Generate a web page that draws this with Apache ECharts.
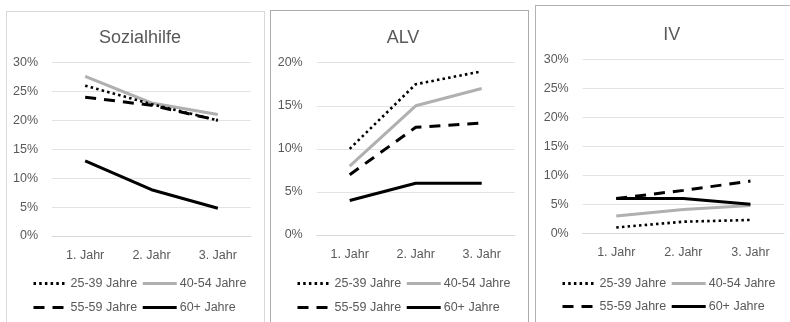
<!DOCTYPE html>
<html>
<head>
<meta charset="utf-8">
<script src="https://cdn.jsdelivr.net/npm/echarts@6/dist/echarts.min.js"></script>
<style>
  html, body { margin: 0; padding: 0; background: #fff; width: 790px; height: 322px; overflow: hidden; }
  .panel { position: absolute; box-sizing: content-box; background: #fff; }
  #p1 { left: 6px; top: 11px; width: 257px; height: 330px; border: 1px solid #d9d9d9; }
  #p2 { left: 270px; top: 10px; width: 257px; height: 330px; border: 1px solid #ababab; }
  #p3 { left: 535px; top: 5px; width: 270px; height: 330px; border: 1px solid #b3b3b3; }
</style>
</head>
<body>
<div id="p1" class="panel"></div>
<div id="p2" class="panel"></div>
<div id="p3" class="panel"></div>
<script>
// Categories and age groups
const categories = ['1. Jahr', '2. Jahr', '3. Jahr'];
const groups = ['25-39 Jahre', '40-54 Jahre', '55-59 Jahre', '60+ Jahre'];

// Sozialhilfe (%)
const sozialhilfe_25_39 = [26, 22.8, 20];
const sozialhilfe_40_54 = [27.6, 23, 21];
const sozialhilfe_55_59 = [24, 22.6, 20];
const sozialhilfe_60plus = [13, 8, 4.8];

// ALV (%)
const alv_25_39 = [10, 17.5, 19];
const alv_40_54 = [8, 15, 17];
const alv_55_59 = [7, 12.5, 13];
const alv_60plus = [4, 6, 6];

// IV (%)
const iv_25_39 = [1, 2, 2.3];
const iv_40_54 = [3, 4.1, 4.8];
const iv_55_59 = [6, 7.4, 9];
const iv_60plus = [6, 6, 5];

const textColor = '#595959';
const font = 'Liberation Sans';

// line look per age group
const lineStyles = [
  { color: '#000000', width: 2.6, type: [2.5, 3.2], cap: 'butt' },
  { color: '#b0b0b0', width: 3, type: 'solid' },
  { color: '#000000', width: 3, type: [11, 8], cap: 'butt' },
  { color: '#000000', width: 3, type: 'solid' }
];

function buildPanel(el, title, seriesData, yMax, layout) {
  const chart = echarts.init(document.getElementById(el), null, { renderer: 'canvas' });
  const legendCommon = {
    orient: 'horizontal',
    left: layout.legendLeft,
    padding: 0,
    itemWidth: 34,
    itemHeight: 14,
    itemGap: 4,
    textStyle: { color: textColor, fontSize: 12.5, fontFamily: font, padding: [0, 0, 0, -2] },
    lineStyle: { width: 3 },
    // the legend keeps only the line sample, no marker
    itemStyle: { opacity: 0 }
  };
  chart.setOption({
    animation: false,
    title: {
      text: title,
      left: layout.titleLeft,
      top: layout.titleTop,
      textAlign: 'center',
      textStyle: { color: textColor, fontSize: 18, fontWeight: 'normal', fontFamily: font }
    },
    legend: [
      Object.assign({}, legendCommon, { top: layout.legendTop1, data: [groups[0], groups[1]] }),
      Object.assign({}, legendCommon, { top: layout.legendTop2, data: [groups[2], groups[3]] })
    ],
    grid: {
      left: layout.gridLeft,
      top: layout.gridTop,
      width: layout.gridWidth,
      height: layout.gridHeight
    },
    xAxis: {
      type: 'category',
      data: categories,
      boundaryGap: true,
      axisLine: { show: true, lineStyle: { color: '#d9d9d9', width: 1 } },
      axisTick: { show: false },
      axisLabel: { color: textColor, fontSize: 12.5, fontFamily: font, margin: 13 }
    },
    yAxis: {
      type: 'value',
      min: 0,
      max: yMax,
      interval: 5,
      axisLine: { show: false },
      axisTick: { show: false },
      splitLine: { lineStyle: { color: '#e3e3e3', width: 1 } },
      axisLabel: { color: textColor, fontSize: 12.5, fontFamily: font, margin: 14, formatter: '{value}%' }
    },
    series: seriesData.map((d, i) => ({
      name: groups[i],
      type: 'line',
      data: d,
      symbol: 'none',
      showSymbol: false,
      smooth: false,
      lineStyle: lineStyles[i],
      itemStyle: { color: lineStyles[i].color },
      z: i === 1 ? 1 : 2
    }))
  });
}

buildPanel('p1', 'Sozialhilfe',
  [sozialhilfe_25_39, sozialhilfe_40_54, sozialhilfe_55_59, sozialhilfe_60plus], 30,
  { gridLeft: 45, gridTop: 50.5, gridWidth: 199, gridHeight: 173.5,
    titleLeft: 128, titleTop: 12, legendLeft: 25, legendTop1: 265, legendTop2: 289 });

buildPanel('p2', 'ALV',
  [alv_25_39, alv_40_54, alv_55_59, alv_60plus], 20,
  { gridLeft: 45.7, gridTop: 51.7, gridWidth: 198, gridHeight: 172.3,
    titleLeft: 127, titleTop: 13, legendLeft: 25, legendTop1: 266, legendTop2: 290 });

buildPanel('p3', 'IV',
  [iv_25_39, iv_40_54, iv_55_59, iv_60plus], 30,
  { gridLeft: 46.7, gridTop: 53.3, gridWidth: 201.3, gridHeight: 174,
    titleLeft: 130.7, titleTop: 15, legendLeft: 25, legendTop1: 271, legendTop2: 294 });
</script>
</body>
</html>
